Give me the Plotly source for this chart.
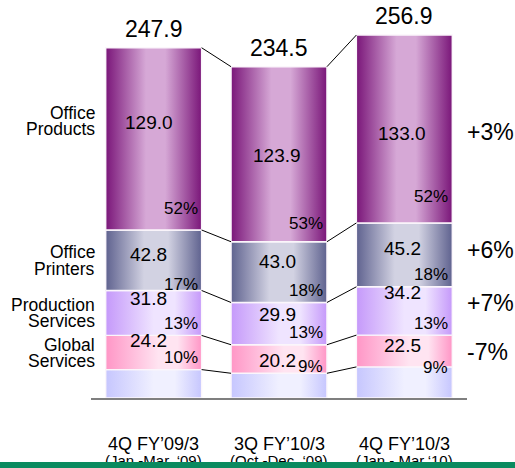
import plotly.graph_objects as go

# ---- data ----
periods = ["4Q FY’09/3", "3Q FY’10/3", "4Q FY’10/3"]
period_ranges = ["(Jan.-Mar.,‘09)", "(Oct.-Dec.,‘09)", "(Jan.-.Mar,‘10)"]
totals = [247.9, 234.5, 256.9]

office_products = [129.0, 123.9, 133.0]
office_printers = [42.8, 43.0, 45.2]
production_services = [31.8, 29.9, 34.2]
global_services = [24.2, 20.2, 22.5]
other = [20.1, 17.5, 22.0]

products_share = ["52%", "53%", "52%"]
printers_share = ["17%", "18%", "18%"]
production_share = ["13%", "13%", "13%"]
global_share = ["10%", "9%", "9%"]

segment_names = [["Global", "Services"], ["Production", "Services"],
                 ["Office", "Printers"], ["Office", "Products"]]
growth = ["-7%", "+7%", "+6%", "+3%"]

# ---- styles / label placement (pixels) ----
FONT = "Liberation Sans, Arial, sans-serif"
W = 0.765
series = [  # bottom -> top
    dict(vals=other, share=None, dark="#c6c6fe", light="#f0f0ff", plateau=(0.5, 0.72),
         label=None, growth=None, vnudge=None, pnudge=None, gnudge=0),
    dict(vals=global_services, share=global_share, dark="#ff96c6", light="#ffe4f1",
         plateau=(0.55, 0.75), label=segment_names[0], growth=growth[0],
         vnudge=[6, -7, 0], pnudge=[0, -5, -13], gnudge=-1),
    dict(vals=production_services, share=production_share, dark="#c599fa", light="#efe4ff",
         plateau=(0.5, 0.72), label=segment_names[1], growth=growth[1],
         vnudge=[8, 3, 12], pnudge=[0, 0, 0], gnudge=8),
    dict(vals=office_printers, share=printers_share, dark="#5f628f", light="#d2d2e2",
         plateau=(0.4, 0.65), label=segment_names[2], growth=growth[2],
         vnudge=[0, 5, 0], pnudge=[-6, 0, 0], gnudge=5),
    dict(vals=office_products, share=products_share, dark="#7a1679", light="#d6a8d6",
         plateau=(0.42, 0.62), label=segment_names[3], growth=growth[3],
         vnudge=[10, -7, -11], pnudge=[10, 6, 14], gnudge=-3),
]
value_xshift = [-5, -2, -2]

fig = go.Figure()
annotations = []

n = len(periods)
cum = [[0.0] * n]
for s in series:
    prev = cum[-1]
    cum.append([prev[i] + s["vals"][i] for i in range(n)])

top_k = len(series) - 1
for k, s in enumerate(series):
    p0, p1 = s["plateau"]
    for i in range(n):
        b, t = cum[k][i], cum[k + 1][i]
        x0, x1 = i - W / 2, i + W / 2
        fig.add_trace(go.Scatter(
            x=[x0, x1, x1, x0, x0], y=[b, b, t, t, b],
            mode="lines", fill="toself",
            line=dict(color="#fbf6fb", width=1.4),
            fillgradient=dict(type="horizontal",
                              colorscale=[[0, s["dark"]], [p0, s["light"]],
                                          [p1, s["light"]], [1, s["dark"]]]),
            hoverinfo="skip", showlegend=False))
        if s["share"] is not None:
            annotations.append(dict(x=i, y=(b + t) / 2, yshift=6 + s["vnudge"][i],
                                    xshift=value_xshift[i], text=f"{s['vals'][i]:.1f}",
                                    showarrow=False,
                                    font=dict(size=19, color="black", family=FONT)))
            annotations.append(dict(x=x1, y=b, xanchor="right", yanchor="middle", xshift=-2,
                                    yshift=12 + s["pnudge"][i], text=s["share"][i],
                                    showarrow=False,
                                    font=dict(size=17, color="black", family=FONT)))
    if s["label"] is not None:
        b, t = cum[k][0], cum[k + 1][0]
        lift = 18 if k == top_k else 0
        for j, line in enumerate(s["label"]):
            annotations.append(dict(xref="paper", x=0.016, xanchor="right", y=(b + t) / 2,
                                    yshift=lift + (8 if j == 0 else -8.5), text=line,
                                    showarrow=False,
                                    font=dict(size=17.5, color="black", family=FONT)))
        b, t = cum[k][2], cum[k + 1][2]
        annotations.append(dict(xref="paper", x=0.9947, xanchor="left", y=(b + t) / 2,
                                yshift=s["gnudge"], text=s["growth"], showarrow=False,
                                font=dict(size=23, color="black", family=FONT)))

# connector lines
cx, cy = [], []
for i in range(n - 1):
    for k in range(1, len(cum)):
        cx += [i + W / 2, i + 1 - W / 2, None]
        cy += [cum[k][i], cum[k][i + 1], None]
fig.add_trace(go.Scatter(x=cx, y=cy, mode="lines", line=dict(color="black", width=1),
                         hoverinfo="skip", showlegend=False))

for i in range(n):
    annotations.append(dict(x=i, y=totals[i], yanchor="bottom", yshift=4,
                            text=f"{totals[i]:.1f}", showarrow=False,
                            font=dict(size=23, color="black", family=FONT)))
    annotations.append(dict(x=i, xref="x", yref="paper", y=0, yanchor="middle", yshift=-46,
                            text=periods[i], showarrow=False,
                            font=dict(size=18, color="black", family=FONT)))
    annotations.append(dict(x=i, xref="x", yref="paper", y=0, yanchor="middle", yshift=-62,
                            text=period_ranges[i], showarrow=False,
                            font=dict(size=15, color="black", family=FONT)))

# green footer band (drawn last, above text)
annotations.append(dict(xref="paper", yref="paper", x=-91 / 376, y=0, xanchor="left",
                        yanchor="top", yshift=-64, text=" ", width=530, height=10,
                        bgcolor="#0a8a5f", borderpad=0, borderwidth=0, showarrow=False,
                        font=dict(size=1)))

fig.update_layout(
    width=515, height=468,
    margin=dict(l=91, r=48, t=0, b=70),
    paper_bgcolor="white", plot_bgcolor="white",
    xaxis=dict(range=[-0.5, 2.5], showline=True, linecolor="#7f7f7f", linewidth=2,
               showticklabels=False, showgrid=False, zeroline=False, ticks=""),
    yaxis=dict(range=[0, 281.7], visible=False, showgrid=False, zeroline=False),
    annotations=annotations,
    showlegend=False,
)

fig.write_html("out.html", config={"displayModeBar": False},
               post_script="document.body.style.margin='0';document.body.style.overflow='hidden';")
